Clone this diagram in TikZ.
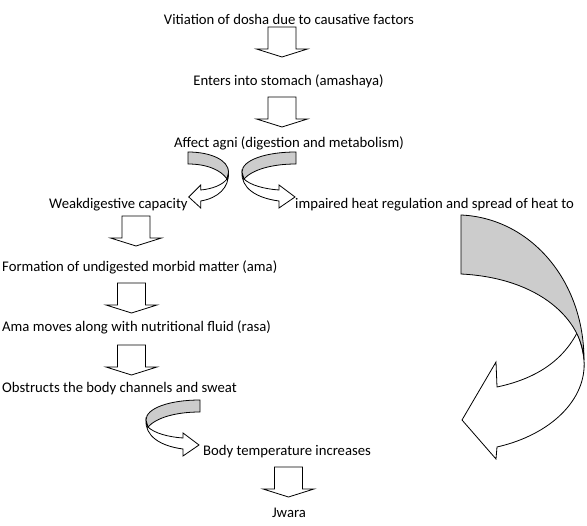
\documentclass[tikz,border=0pt]{standalone}
\usepackage{fontspec}
\setmainfont{Carlito}
\usetikzlibrary{positioning}

\begin{document}
\begin{tikzpicture}[x=1pt,y=-1pt,
    txt/.style={font=\fontsize{14.7}{17}\selectfont,inner sep=0pt},
    outline/.style={draw=black,line width=0.8pt,fill=white},
    shade/.style={draw=black,line width=0.8pt,fill=black!20},
    pics/downblock/.style={code={
      \draw[outline] (-14,0) -- (-14,22) -- (-25.5,22) -- (0,30)
        -- (25.5,22) -- (14,22) -- (14,0) -- cycle;}},
    pics/ribbon/.style={code={
      \draw[outline] (-54,20) .. controls (-55,36) and (-40,46) .. (-17,49)
        -- (-17,56) -- (-1,45) -- (-17,33) -- (-17,38)
        .. controls (-32,37) and (-46,33) .. (-52,27) -- cycle;
      \draw[shade] (0,0) .. controls (-30,0) and (-54,8) .. (-54,20)
        -- (-52,27) .. controls (-44,18) and (-25,12) .. (0,12) -- cycle;}}
  ]
  \useasboundingbox (0,0) rectangle (587,526);

  % texts
  \node[txt] (vitiation) at (289,19) {Vitiation of dosha due to causative factors};
  \node[txt] (stomach) at (288.5,81) {Enters into stomach (amashaya)};
  \node[txt] (agni) at (289,143) {Affect agni (digestion and metabolism)};
  \node[txt,anchor=west] (weak) at (49,205) {Weakdigestive capacity};
  \node[txt,anchor=west] (heat) at (295,205) {impaired heat regulation and spread of heat to};
  \node[txt,anchor=west] (ama) at (2,267) {Formation of undigested morbid matter (ama)};
  \node[txt,anchor=west] (rasa) at (2,327) {Ama moves along with nutritional fluid (rasa)};
  \node[txt,anchor=west] (obstruct) at (2,389) {Obstructs the body channels and sweat};
  \node[txt,anchor=west] (temp) at (203,452) {Body temperature increases};
  \node[txt] (jwara) at (289,513) {Jwara};

  % straight block arrows
  \pic at (282,27) {downblock};
  \pic at (282,97) {downblock};
  \pic at (136,216) {downblock};
  \pic at (131.5,283) {downblock};
  \pic at (131.5,345) {downblock};
  \pic at (288.5,467) {downblock};

  % curved block arrows
  \pic[xscale=-0.75] at (188,152) {ribbon};
  \pic at (296,152) {ribbon};
  \pic at (200,400) {ribbon};

  % large curved arrow
  \draw[outline] (577,333) .. controls (560,365) and (530,380) .. (497,387)
    -- (496,362) -- (462,420) -- (496,459) -- (497,447)
    .. controls (550,435) and (587,400) .. (584,360)
    .. controls (583,350) and (580,340) .. (577,333) -- cycle;
  \draw[shade] (461,215) .. controls (530,218) and (584,280) .. (584,360)
    .. controls (582,320) and (540,278) .. (461,274) -- cycle;
\end{tikzpicture}
\end{document}
